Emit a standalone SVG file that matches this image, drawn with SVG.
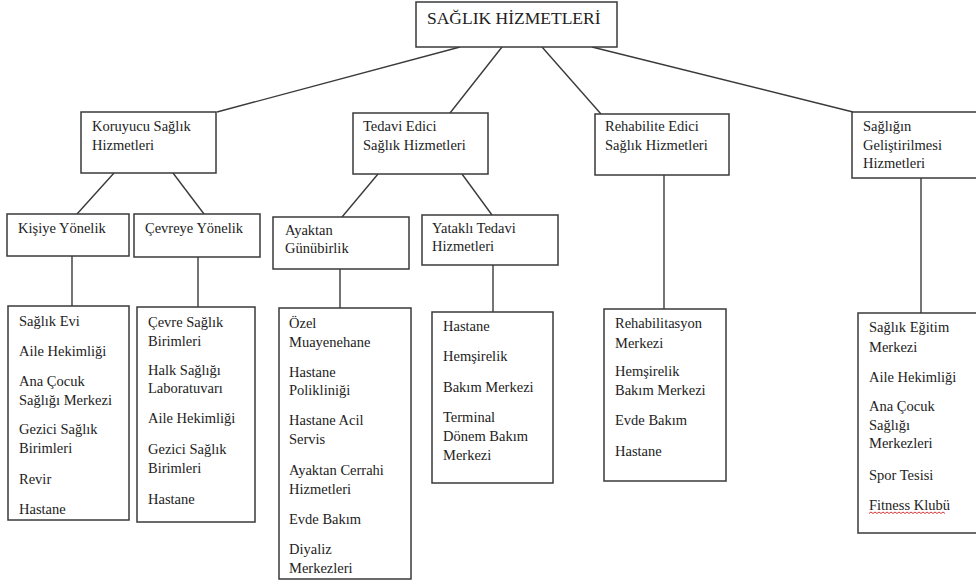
<svg xmlns="http://www.w3.org/2000/svg" width="976" height="586" viewBox="0 0 976 586">
<style>
.box{fill:#fff;stroke:#3a3a3a;stroke-width:1.5}
.ln{stroke:#3a3a3a;stroke-width:1.4;fill:none}
text{font-family:"Liberation Serif","Times New Roman",serif;font-size:14.5px;fill:#222}
.root{font-size:17.5px}
</style>
<rect width="976" height="586" fill="#fff"/>
<g id="connectors">
<line class="ln" x1="460" y1="47" x2="217" y2="112"/>
<line class="ln" x1="502" y1="47" x2="450" y2="113"/>
<line class="ln" x1="542" y1="47" x2="601" y2="114"/>
<line class="ln" x1="592" y1="47" x2="853" y2="112"/>
<line class="ln" x1="114" y1="173" x2="77" y2="214"/>
<line class="ln" x1="173" y1="173" x2="204" y2="214"/>
<line class="ln" x1="378" y1="174" x2="342" y2="217"/>
<line class="ln" x1="462" y1="174" x2="492" y2="215"/>
<line class="ln" x1="72" y1="256" x2="72" y2="306"/>
<line class="ln" x1="198" y1="257" x2="198" y2="307"/>
<line class="ln" x1="340" y1="269" x2="340" y2="308"/>
<line class="ln" x1="493" y1="265" x2="493" y2="312"/>
<line class="ln" x1="664" y1="175" x2="664" y2="309"/>
<line class="ln" x1="921" y1="178" x2="921" y2="313"/>
</g>
<g id="root">
<rect class="box" x="416" y="2" width="201" height="45"/>
<text class="root" x="427" y="24">SAĞLIK HİZMETLERİ</text>
</g>
<g id="koruyucu">
<rect class="box" x="81" y="112" width="135" height="61"/>
<text x="92" y="131">Koruyucu Sağlık</text>
<text x="92" y="150">Hizmetleri</text>
</g>
<g id="tedavi">
<rect class="box" x="353" y="113" width="135" height="61"/>
<text x="363" y="131">Tedavi Edici</text>
<text x="363" y="150">Sağlık Hizmetleri</text>
</g>
<g id="rehabilite">
<rect class="box" x="595" y="114" width="134" height="61"/>
<text x="605" y="131">Rehabilite Edici</text>
<text x="605" y="150">Sağlık Hizmetleri</text>
</g>
<g id="gelistirme">
<rect class="box" x="852" y="112" width="140" height="66"/>
<text x="863" y="131">Sağlığın</text>
<text x="863" y="150">Geliştirilmesi</text>
<text x="863" y="168">Hizmetleri</text>
</g>
<g id="kisiye">
<rect class="box" x="7" y="214" width="122" height="42"/>
<text x="18" y="233">Kişiye Yönelik</text>
</g>
<g id="cevreye">
<rect class="box" x="134" y="214" width="126" height="43"/>
<text x="145" y="233">Çevreye Yönelik</text>
</g>
<g id="ayaktan">
<rect class="box" x="273" y="217" width="136" height="52"/>
<text x="285" y="235">Ayaktan</text>
<text x="285" y="253">Günübirlik</text>
</g>
<g id="yatakli">
<rect class="box" x="422" y="215" width="136" height="50"/>
<text x="432" y="233">Yataklı Tedavi</text>
<text x="432" y="251">Hizmetleri</text>
</g>
<g id="kisiye-list">
<rect class="box" x="8" y="306" width="121" height="214"/>
<text x="19" y="326">Sağlık Evi</text>
<text x="19" y="356">Aile Hekimliği</text>
<text x="19" y="386">Ana Çocuk</text>
<text x="19" y="405">Sağlığı Merkezi</text>
<text x="19" y="434">Gezici Sağlık</text>
<text x="19" y="453">Birimleri</text>
<text x="19" y="484">Revir</text>
<text x="19" y="514">Hastane</text>
</g>
<g id="cevreye-list">
<rect class="box" x="137" y="307" width="118" height="215"/>
<text x="148" y="327">Çevre Sağlık</text>
<text x="148" y="346">Birimleri</text>
<text x="148" y="375">Halk Sağlığı</text>
<text x="148" y="393">Laboratuvarı</text>
<text x="148" y="423">Aile Hekimliği</text>
<text x="148" y="454">Gezici Sağlık</text>
<text x="148" y="473">Birimleri</text>
<text x="148" y="504">Hastane</text>
</g>
<g id="ayaktan-list">
<rect class="box" x="279" y="308" width="132" height="271"/>
<text x="289" y="328">Özel</text>
<text x="289" y="347">Muayenehane</text>
<text x="289" y="377">Hastane</text>
<text x="289" y="395">Polikliniği</text>
<text x="289" y="425">Hastane Acil</text>
<text x="289" y="444">Servis</text>
<text x="289" y="475">Ayaktan Cerrahi</text>
<text x="289" y="494">Hizmetleri</text>
<text x="289" y="524">Evde Bakım</text>
<text x="289" y="554">Diyaliz</text>
<text x="289" y="573">Merkezleri</text>
</g>
<g id="yatakli-list">
<rect class="box" x="432" y="312" width="121" height="171"/>
<text x="443" y="331">Hastane</text>
<text x="443" y="361">Hemşirelik</text>
<text x="443" y="392">Bakım Merkezi</text>
<text x="443" y="422">Terminal</text>
<text x="443" y="441">Dönem Bakım</text>
<text x="443" y="460">Merkezi</text>
</g>
<g id="rehabilite-list">
<rect class="box" x="604" y="309" width="122" height="172"/>
<text x="615" y="328">Rehabilitasyon</text>
<text x="615" y="348">Merkezi</text>
<text x="615" y="376">Hemşirelik</text>
<text x="615" y="395">Bakım Merkezi</text>
<text x="615" y="425">Evde Bakım</text>
<text x="615" y="456">Hastane</text>
</g>
<g id="gelistirme-list">
<rect class="box" x="858" y="313" width="134" height="220"/>
<text x="869" y="332">Sağlık Eğitim</text>
<text x="869" y="352">Merkezi</text>
<text x="869" y="382">Aile Hekimliği</text>
<text x="869" y="411">Ana Çocuk</text>
<text x="869" y="430">Sağlığı</text>
<text x="869" y="448">Merkezleri</text>
<text x="869" y="480">Spor Tesisi</text>
<text x="869" y="510">Fitness Klubü</text>
<path d="M869 513.5 l2 -1.5 l2 1.5 l2 -1.5 l2 1.5 l2 -1.5 l2 1.5 l2 -1.5 l2 1.5 l2 -1.5 l2 1.5 l2 -1.5 l2 1.5 l2 -1.5 l2 1.5 l2 -1.5 l2 1.5 l2 -1.5 l2 1.5 l2 -1.5 l2 1.5 l2 -1.5 l2 1.5 l2 -1.5 l2 1.5 l2 -1.5 l2 1.5 l2 -1.5 l2 1.5 l2 -1.5 l2 1.5 l2 -1.5 l2 1.5 l2 -1.5 l2 1.5 l2 -1.5 l2 1.5 l2 -1.5 l2 1.5" fill="none" stroke="#d02020" stroke-width="0.9"/>
</g>
</svg>
